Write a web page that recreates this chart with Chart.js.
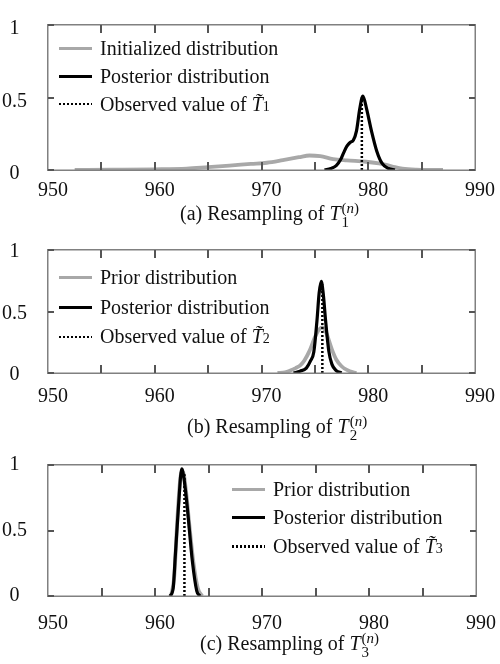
<!DOCTYPE html>
<html>
<head>
<meta charset="utf-8">
<script src="https://cdn.jsdelivr.net/npm/chart.js@4.4.1/dist/chart.umd.min.js"></script>
<style>
  html, body { margin: 0; padding: 0; background: #fff; }
  #wrap { position: relative; width: 500px; height: 664px; font-family: "Liberation Serif", "Times New Roman", serif; color: #111; }
  .panel { position: absolute; left: 0; width: 500px; }
  .legend { position: absolute; font-size: 20px; }
  .legend .row { display: flex; align-items: center; white-space: nowrap; }
  .legend .smp { width: 33px; margin-right: 8px; }
  .caption { position: absolute; font-size: 20px; white-space: nowrap; line-height: 24px; }
  .ss { display: inline-block; vertical-align: -7px; font-size: 15px; line-height: 14px; margin-left: 1px; }
  .ss span { display: block; }
</style>
</head>
<body>
<div id="wrap">
  <div class="panel" style="top:0"><canvas id="chartA" width="500" height="205"></canvas></div>
  <div class="panel" style="top:225px"><canvas id="chartB" width="500" height="185"></canvas></div>
  <div class="panel" style="top:440px"><canvas id="chartC" width="500" height="200"></canvas></div>

  <div class="legend" id="legA" style="left:59px;top:34px"></div>
  <div class="legend" id="legB" style="left:59px;top:263px"></div>
  <div class="legend" id="legC" style="left:232px;top:475px"></div>

  <div class="caption" style="left:180px;top:201px">(a) Resampling of <i>T</i><span class="ss"><span>(<i>n</i>)</span><span>1</span></span></div>
  <div class="caption" style="left:187px;top:414px">(b) Resampling of <i>T</i><span class="ss"><span>(<i>n</i>)</span><span>2</span></span></div>
  <div class="caption" style="left:200px;top:631px">(c) Resampling of <i>T</i><span class="ss"><span>(<i>n</i>)</span><span>3</span></span></div>
</div>
<script>
// axis
const xMin = 950, xMax = 990;
const xStep = 5;
const yTicks = [0, 0.5, 1];

// (a) resampling of T1
const initX1 = [952.5, 956, 960, 963, 965, 967, 969, 970.5, 972, 973.5, 974.5, 975.5, 976.7, 978, 979.8, 981, 981.7, 982.5, 983.2, 984.5, 986, 987];
const initY1 = [0, 0.002, 0.005, 0.01, 0.02, 0.03, 0.042, 0.05, 0.068, 0.088, 0.1, 0.095, 0.075, 0.066, 0.057, 0.045, 0.035, 0.02, 0.01, 0.003, 0.001, 0];
const postX1 = [975.9, 976.5, 977.0, 977.4, 977.7, 978.0, 978.3, 978.6, 978.9, 979.2, 979.5, 979.85, 980.3, 980.8, 981.3, 981.9, 982.5];
const postY1 = [0, 0.01, 0.03, 0.07, 0.12, 0.165, 0.19, 0.205, 0.27, 0.42, 0.51, 0.42, 0.27, 0.13, 0.045, 0.01, 0];
const obsX1 = [979.4, 979.4];
const obsY1 = [0, 0.5];

// (b) resampling of T2
const priorX2 = [971.5, 972.2, 972.7, 973.2, 973.6, 974.0, 974.5, 975.0, 975.4, 975.7, 976.0, 976.6, 977.0, 977.5, 978.0, 978.6, 978.9];
const priorY2 = [0, 0.005, 0.02, 0.04, 0.06, 0.1, 0.18, 0.29, 0.355, 0.37, 0.34, 0.19, 0.11, 0.055, 0.025, 0.005, 0];
const postX2 = [973.0, 973.6, 974.2, 974.6, 974.9, 975.2, 975.4, 975.6, 975.8, 976.0, 976.3, 976.6, 977.0, 977.5];
const postY2 = [0, 0.015, 0.04, 0.1, 0.17, 0.43, 0.65, 0.745, 0.63, 0.43, 0.18, 0.07, 0.02, 0];
const obsX2 = [975.7, 975.7];
const obsY2 = [0, 0.72];

// (c) resampling of T3
const priorX3 = [961.5, 961.8, 962.1, 962.4, 962.6, 962.9, 963.2, 963.6, 964.0, 964.4];
const priorY3 = [0, 0.15, 0.6, 0.92, 0.95, 0.8, 0.55, 0.25, 0.06, 0];
const postX3 = [961.4, 961.7, 961.9, 962.2, 962.5, 962.7, 963.0, 963.5, 963.9, 964.2];
const postY3 = [0, 0.06, 0.31, 0.69, 0.97, 0.9, 0.69, 0.26, 0.04, 0];
const obsX3 = [962.75, 962.75];
const obsY3 = [0, 0.93];

const GRAY = '#a8a8a8';
const serif = '"Liberation Serif", "Times New Roman", serif';
Chart.defaults.font.family = serif;
Chart.defaults.font.size = 20;
Chart.defaults.color = '#111';

const pts = (xs, ys) => xs.map((x, i) => ({ x: x, y: ys[i] }));

// box round the plot with inward ticks
const frame = {
  id: 'frame',
  afterDraw(chart) {
    const ctx = chart.ctx;
    const a = chart.chartArea;
    const sx = chart.scales.x, sy = chart.scales.y;
    ctx.save();
    ctx.fillStyle = '#808080';
    const L = Math.round(a.left), R = Math.round(a.right);
    const T = Math.round(a.top), B = Math.round(a.bottom);
    ctx.fillRect(L - 1, T - 1, R - L + 2, 1.5);
    ctx.fillRect(L - 1, B - 0.5, R - L + 2, 1.5);
    ctx.fillRect(L - 1, T - 1, 1.5, B - T + 2);
    ctx.fillRect(R - 0.5, T - 1, 1.5, B - T + 2);
    ctx.fillStyle = '#555';
    for (let v = xMin + xStep; v < xMax; v += xStep) {
      const px = Math.round(sx.getPixelForValue(v));
      ctx.fillRect(px - 1, B - 8, 2, 8);
      ctx.fillRect(px - 1, T, 2, 8);
    }
    yTicks.forEach(v => {
      const py = Math.round(sy.getPixelForValue(v));
      ctx.fillRect(L, py - 1, 6, 2);
      ctx.fillRect(R - 6, py - 1, 6, 2);
    });
    ctx.restore();
  }
};

function makePanel(id, sets, p) {
  return new Chart(document.getElementById(id), {
    type: 'line',
    data: {
      datasets: sets.map(s => ({
        label: s.label,
        data: pts(s.xs, s.ys),
        borderColor: s.color,
        borderWidth: s.width,
        borderDash: s.dash || [],
        order: s.order,
        pointRadius: 0,
        fill: false,
        cubicInterpolationMode: s.dash ? 'default' : 'monotone',
        tension: 0
      }))
    },
    options: {
      responsive: false,
      devicePixelRatio: 1,
      animation: false,
      layout: { padding: { top: p.top, right: p.right, left: 0, bottom: 0 } },
      plugins: { legend: { display: false }, tooltip: { enabled: false } },
      scales: {
        x: {
          type: 'linear', min: xMin, max: xMax,
          afterFit: s => { s.height = p.xh; },
          grid: { display: false },
          border: { display: false },
          ticks: {
            stepSize: xStep, autoSkip: false, maxRotation: 0,
            padding: p.xpad, labelOffset: 5,
            callback: v => (v % 10 === 0 ? String(v) : '')
          }
        },
        y: {
          min: 0, max: 1,
          afterFit: s => { s.width = 48; },
          afterBuildTicks: s => { s.ticks = yTicks.map(v => ({ value: v })); },
          grid: { display: false },
          border: { display: false },
          ticks: {
            crossAlign: 'center', padding: 13, labelOffset: p.yoff,
            callback: v => String(v)
          }
        }
      }
    },
    plugins: [frame]
  });
}

function legend(id, rows) {
  document.getElementById(id).innerHTML = rows.map(r =>
    '<div class="row" style="height:' + r.h + 'px"><div class="smp" style="' + r.smp + '"></div><span>' + r.html + '</span></div>'
  ).join('');
}

const solidGray = 'height:3px;background:' + GRAY;
const solidBlack = 'height:3px;background:#000';
const dotted = 'height:2.5px;background:repeating-linear-gradient(to right,#000 0 2px,transparent 2px 4px)';
const obs = n => 'Observed value of <i>T&#771;</i><span style="font-size:14px">' + n + '</span>';

makePanel('chartA', [
  { label: 'Observed value', xs: obsX1, ys: obsY1, color: '#000', width: 2.5, dash: [2, 2], order: 0 },
  { label: 'Posterior distribution', xs: postX1, ys: postY1, color: '#000', width: 3.2, order: 1 },
  { label: 'Initialized distribution', xs: initX1, ys: initY1, color: GRAY, width: 3.8, order: 2 }
], { top: 20, right: 25, xh: 35, xpad: 1, yoff: 4 });

makePanel('chartB', [
  { label: 'Observed value', xs: obsX2, ys: obsY2, color: '#000', width: 2.5, dash: [2, 2], order: 0 },
  { label: 'Posterior distribution', xs: postX2, ys: postY2, color: '#000', width: 3.2, order: 1 },
  { label: 'Prior distribution', xs: priorX2, ys: priorY2, color: GRAY, width: 3.8, order: 2 }
], { top: 24, right: 25, xh: 37, xpad: 4, yoff: 2 });

makePanel('chartC', [
  { label: 'Observed value', xs: obsX3, ys: obsY3, color: '#000', width: 2.5, dash: [2, 2], order: 0 },
  { label: 'Posterior distribution', xs: postX3, ys: postY3, color: '#000', width: 3.2, order: 1 },
  { label: 'Prior distribution', xs: priorX3, ys: priorY3, color: GRAY, width: 3.8, order: 2 }
], { top: 24, right: 24, xh: 44, xpad: 8, yoff: 0 });

legend('legA', [
  { h: 28, smp: solidGray, html: 'Initialized distribution' },
  { h: 28, smp: solidBlack, html: 'Posterior distribution' },
  { h: 28, smp: dotted, html: obs(1) }
]);
legend('legB', [
  { h: 29.5, smp: solidGray, html: 'Prior distribution' },
  { h: 29.5, smp: solidBlack, html: 'Posterior distribution' },
  { h: 29.5, smp: dotted, html: obs(2) }
]);
legend('legC', [
  { h: 28.5, smp: solidGray, html: 'Prior distribution' },
  { h: 28.5, smp: solidBlack, html: 'Posterior distribution' },
  { h: 28.5, smp: dotted, html: obs(3) }
]);
</script>
</body>
</html>
